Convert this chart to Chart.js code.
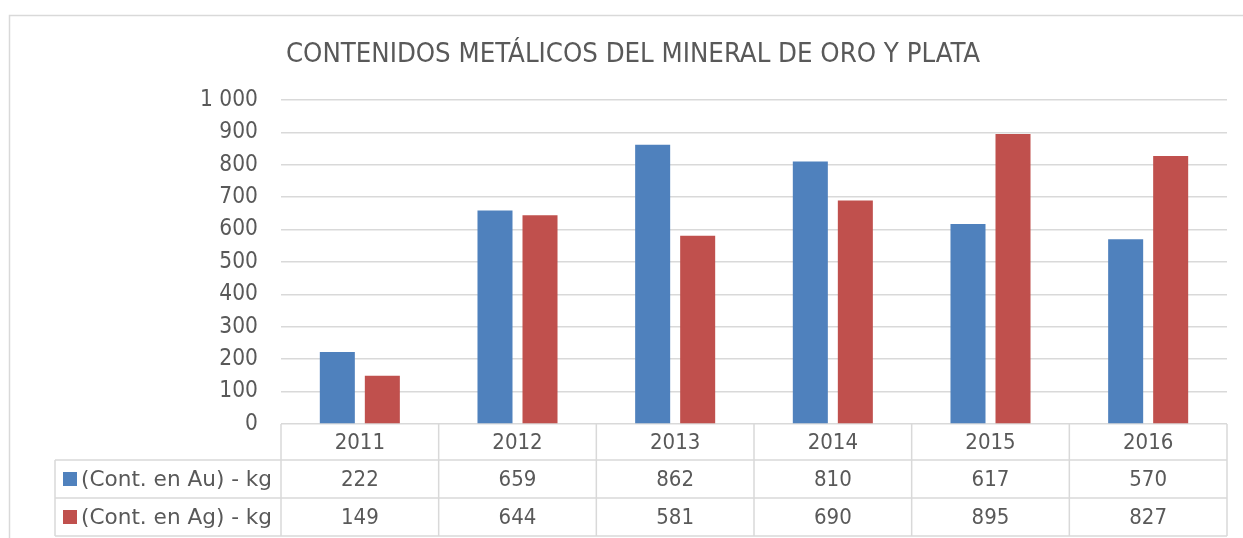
<!DOCTYPE html>
<html>
<head>
<meta charset="utf-8">
<script src="https://cdn.jsdelivr.net/npm/chart.js@4.4.1/dist/chart.umd.min.js"></script>
<style>
  html, body { margin: 0; padding: 0; background: #fff; }
  #wrap { width: 1243px; height: 538px; }
</style>
</head>
<body>
<div id="wrap"><canvas id="c" width="1243" height="538"></canvas></div>
<script>
const years = ['2011', '2012', '2013', '2014', '2015', '2016'];
const oro = [222, 659, 862, 810, 617, 570];
const plata = [149, 644, 581, 690, 895, 827];
const seriesNames = ['(Cont. en Au) - kg', '(Cont. en Ag) - kg'];
const yTicks = [0, 100, 200, 300, 400, 500, 600, 700, 800, 900, 1000];

const FONT = '"DejaVu Sans Condensed", "DejaVu Sans", sans-serif';
const TXT = '#595959';
const LINE = '#d9d9d9';

function fmt(v) {
  return String(v).replace(/\B(?=(\d{3})+(?!\d))/g, ' ');
}

// marco, titulo y tabla de datos
const tablePlugin = {
  id: 'dataTable',
  beforeDraw(chart) {
    const ctx = chart.ctx;
    ctx.save();
    ctx.strokeStyle = LINE;
    ctx.lineWidth = 1.5;
    ctx.strokeRect(9.5, 15.5, 1250, 540);
    ctx.restore();
  },
  afterDraw(chart) {
    const { ctx, chartArea } = chart;
    const x = chart.scales.x;
    const left = chartArea.left, right = chartArea.right, top = chartArea.bottom;
    const rowH = [36, 38, 38];
    const legendLeft = 55;

    ctx.save();
    // titulo
    ctx.font = '27.3px ' + FONT;
    ctx.fillStyle = TXT;
    ctx.textAlign = 'center';
    ctx.textBaseline = 'alphabetic';
    ctx.fillText('CONTENIDOS METÁLICOS DEL MINERAL DE ORO Y PLATA', 633, 62);

    // lineas
    const y0 = top, y1 = top + rowH[0], y2 = y1 + rowH[1], y3 = y2 + rowH[2];
    const bounds = [left];
    for (let i = 0; i < years.length - 1; i++) {
      bounds.push((x.getPixelForValue(i) + x.getPixelForValue(i + 1)) / 2);
    }
    bounds.push(right);

    ctx.strokeStyle = LINE;
    ctx.lineWidth = 1.5;
    ctx.beginPath();
    bounds.forEach(b => { ctx.moveTo(b, y0); ctx.lineTo(b, y3); });
    ctx.moveTo(legendLeft, y1); ctx.lineTo(legendLeft, y3);
    [y1, y2, y3].forEach(yy => { ctx.moveTo(legendLeft, yy); ctx.lineTo(right, yy); });
    ctx.stroke();

    // textos
    ctx.font = '22px ' + FONT;
    ctx.fillStyle = TXT;
    ctx.textAlign = 'center';
    ctx.textBaseline = 'middle';
    years.forEach((yr, i) => {
      const cx = x.getPixelForValue(i);
      ctx.fillText(yr, cx, (y0 + y1) / 2 + 1);
      ctx.fillText(String(oro[i]), cx, (y1 + y2) / 2 + 1);
      ctx.fillText(String(plata[i]), cx, (y2 + y3) / 2 + 1);
    });

    const rows = [[y1, y2], [y2, y3]];
    ctx.font = '21.6px "DejaVu Sans", sans-serif';
    chart.data.datasets.forEach((ds, k) => {
      const cy = (rows[k][0] + rows[k][1]) / 2;
      ctx.fillStyle = ds.backgroundColor;
      ctx.fillRect(63, cy - 7, 14, 14);
      ctx.fillStyle = TXT;
      ctx.textAlign = 'left';
      ctx.fillText(seriesNames[k], 81, cy + 1);
    });
    ctx.restore();
  }
};

new Chart(document.getElementById('c'), {
  type: 'bar',
  data: {
    labels: years,
    datasets: [
      { label: seriesNames[0], data: oro, backgroundColor: '#4f81bd' },
      { label: seriesNames[1], data: plata, backgroundColor: '#c0504d' }
    ]
  },
  options: {
    responsive: false,
    animation: false,
    events: [],
    layout: { padding: { top: 100, bottom: 114, left: 0, right: 16 } },
    datasets: {
      bar: { categoryPercentage: 0.571, barPercentage: 0.778 }
    },
    plugins: {
      legend: { display: false },
      title: { display: false },
      tooltip: { enabled: false }
    },
    scales: {
      x: { display: false },
      y: {
        min: 0,
        max: 1000,
        afterFit(scale) { scale.width = 281; },
        afterBuildTicks(scale) { scale.ticks = yTicks.map(v => ({ value: v })); },
        border: { display: false },
        grid: { color: LINE, lineWidth: 1.5, drawTicks: false },
        ticks: {
          padding: 23,
          color: TXT,
          font: { family: FONT, size: 22.5 },
          callback: v => fmt(v)
        }
      }
    }
  },
  plugins: [tablePlugin]
});
</script>
</body>
</html>
